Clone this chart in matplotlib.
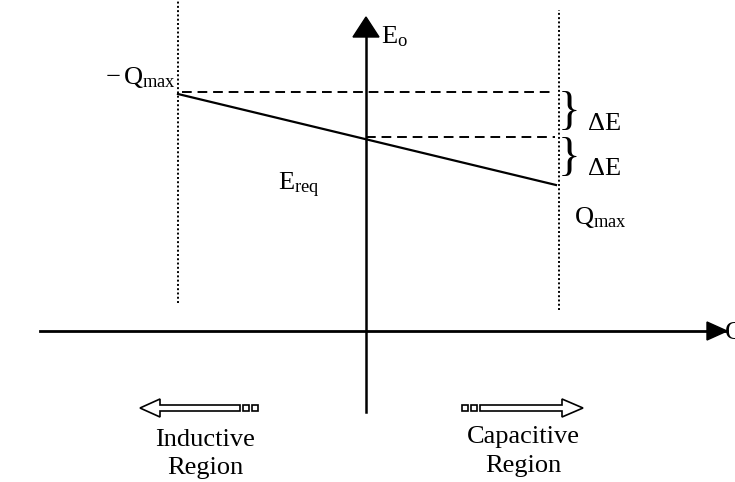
import matplotlib.pyplot as plt
from matplotlib.patches import Polygon, Rectangle

plt.rcParams['font.family'] = ['Liberation Serif', 'DejaVu Serif']
plt.rcParams['mathtext.fontset'] = 'custom'
plt.rcParams['mathtext.rm'] = 'Liberation Serif'
plt.rcParams['mathtext.it'] = 'Liberation Serif:italic'

# diagram values (origin where the Q and E axes cross)
q_limits = [-188, 193]          # -Qmax, +Qmax
e_line = [237, 146]             # E at -Qmax and at +Qmax
e_ref = 239                     # top dashed level
e_mid = 194                     # middle dashed level
q_axis = [-326, 361]
e_axis = [-81, 314]
dot_top = [331, 321]
dot_bottom = [28, 21]
region_arrow_y = -77

fig = plt.figure(figsize=(7.35, 4.82), dpi=100)
ax = fig.add_axes([0, 0, 1, 1])
ax.set_xlim(-366, 369)
ax.set_ylim(-151, 331)
ax.axis('off')

# axes with filled heads
ax.plot(q_axis, [0, 0], color='black', lw=2)
ax.fill([q_axis[1] - 20, q_axis[1], q_axis[1] - 20], [9, 0, -9], color='black')
ax.plot([0, 0], [e_axis[0], e_axis[1] - 15], color='black', lw=1.8)
ax.fill([-13, 0, 13], [e_axis[1] - 20, e_axis[1], e_axis[1] - 20], color='black')

# dotted limits
for q, t, b in zip(q_limits, dot_top, dot_bottom):
    ax.plot([q, q], [b, t], color='black', lw=1.4, linestyle=(0, (1, 1.2)))

# characteristic
ax.plot([q_limits[0], q_limits[1] - 3], e_line, color='black', lw=1.6)
ax.plot([q_limits[0] + 4, q_limits[1] - 4], [e_ref, e_ref], color='black', lw=1.4,
        linestyle=(0, (5, 3)))
ax.plot([0, q_limits[1] - 4], [e_mid, e_mid], color='black', lw=1.4,
        linestyle=(0, (5, 3)))

# braces
ax.text(q_limits[1] - 1, (e_ref + e_mid) / 2 + 2, '}', fontsize=34, va='center',
        ha='left', fontweight='light')
ax.text(q_limits[1] - 1, (e_mid + e_line[1]) / 2 + 2, '}', fontsize=34, va='center',
        ha='left', fontweight='light')
ax.text(q_limits[1] + 29, (e_ref + e_mid) / 2 - 9, 'ΔE', fontsize=19, va='center')
ax.text(q_limits[1] + 29, (e_mid + e_line[1]) / 2 - 8, 'ΔE', fontsize=19, va='center')

# labels
ax.text(15, 294, r'$\mathrm{E_{o}}$', fontsize=19, va='center')
ax.text(-261, 254, r'$-\,\mathrm{Q_{max}}$', fontsize=19, va='center')
ax.text(-88, 146, r'$\mathrm{E_{req}}$', fontsize=19, va='center')
ax.text(208, 114, r'$\mathrm{Q_{max}}$', fontsize=19, va='center')
ax.text(359, -2, 'Q', fontsize=19, va='center')

# hollow region arrows
y0 = region_arrow_y
left = Polygon([[-226, y0], [-206, y0 + 9], [-206, y0 + 3], [-126, y0 + 3],
                [-126, y0 - 3], [-206, y0 - 3], [-206, y0 - 9]],
               closed=True, fc='white', ec='black', lw=1.2)
ax.add_patch(left)
for x in [-123, -114]:
    ax.add_patch(Rectangle((x, y0 - 3), 6, 6, fc='white', ec='black', lw=1.2))
right = Polygon([[217, y0], [196, y0 + 9], [196, y0 + 3], [114, y0 + 3],
                 [114, y0 - 3], [196, y0 - 3], [196, y0 - 9]],
                closed=True, fc='white', ec='black', lw=1.2)
ax.add_patch(right)
for x in [96, 105]:
    ax.add_patch(Rectangle((x, y0 - 3), 6, 6, fc='white', ec='black', lw=1.2))

ax.text(-161, -109, 'Inductive', fontsize=19, ha='center', va='center')
ax.text(-161, -137, 'Region', fontsize=19, ha='center', va='center')
ax.text(157, -106, 'Capacitive', fontsize=19, ha='center', va='center')
ax.text(157, -135, 'Region', fontsize=19, ha='center', va='center')

fig.savefig('out.png', dpi=100)
